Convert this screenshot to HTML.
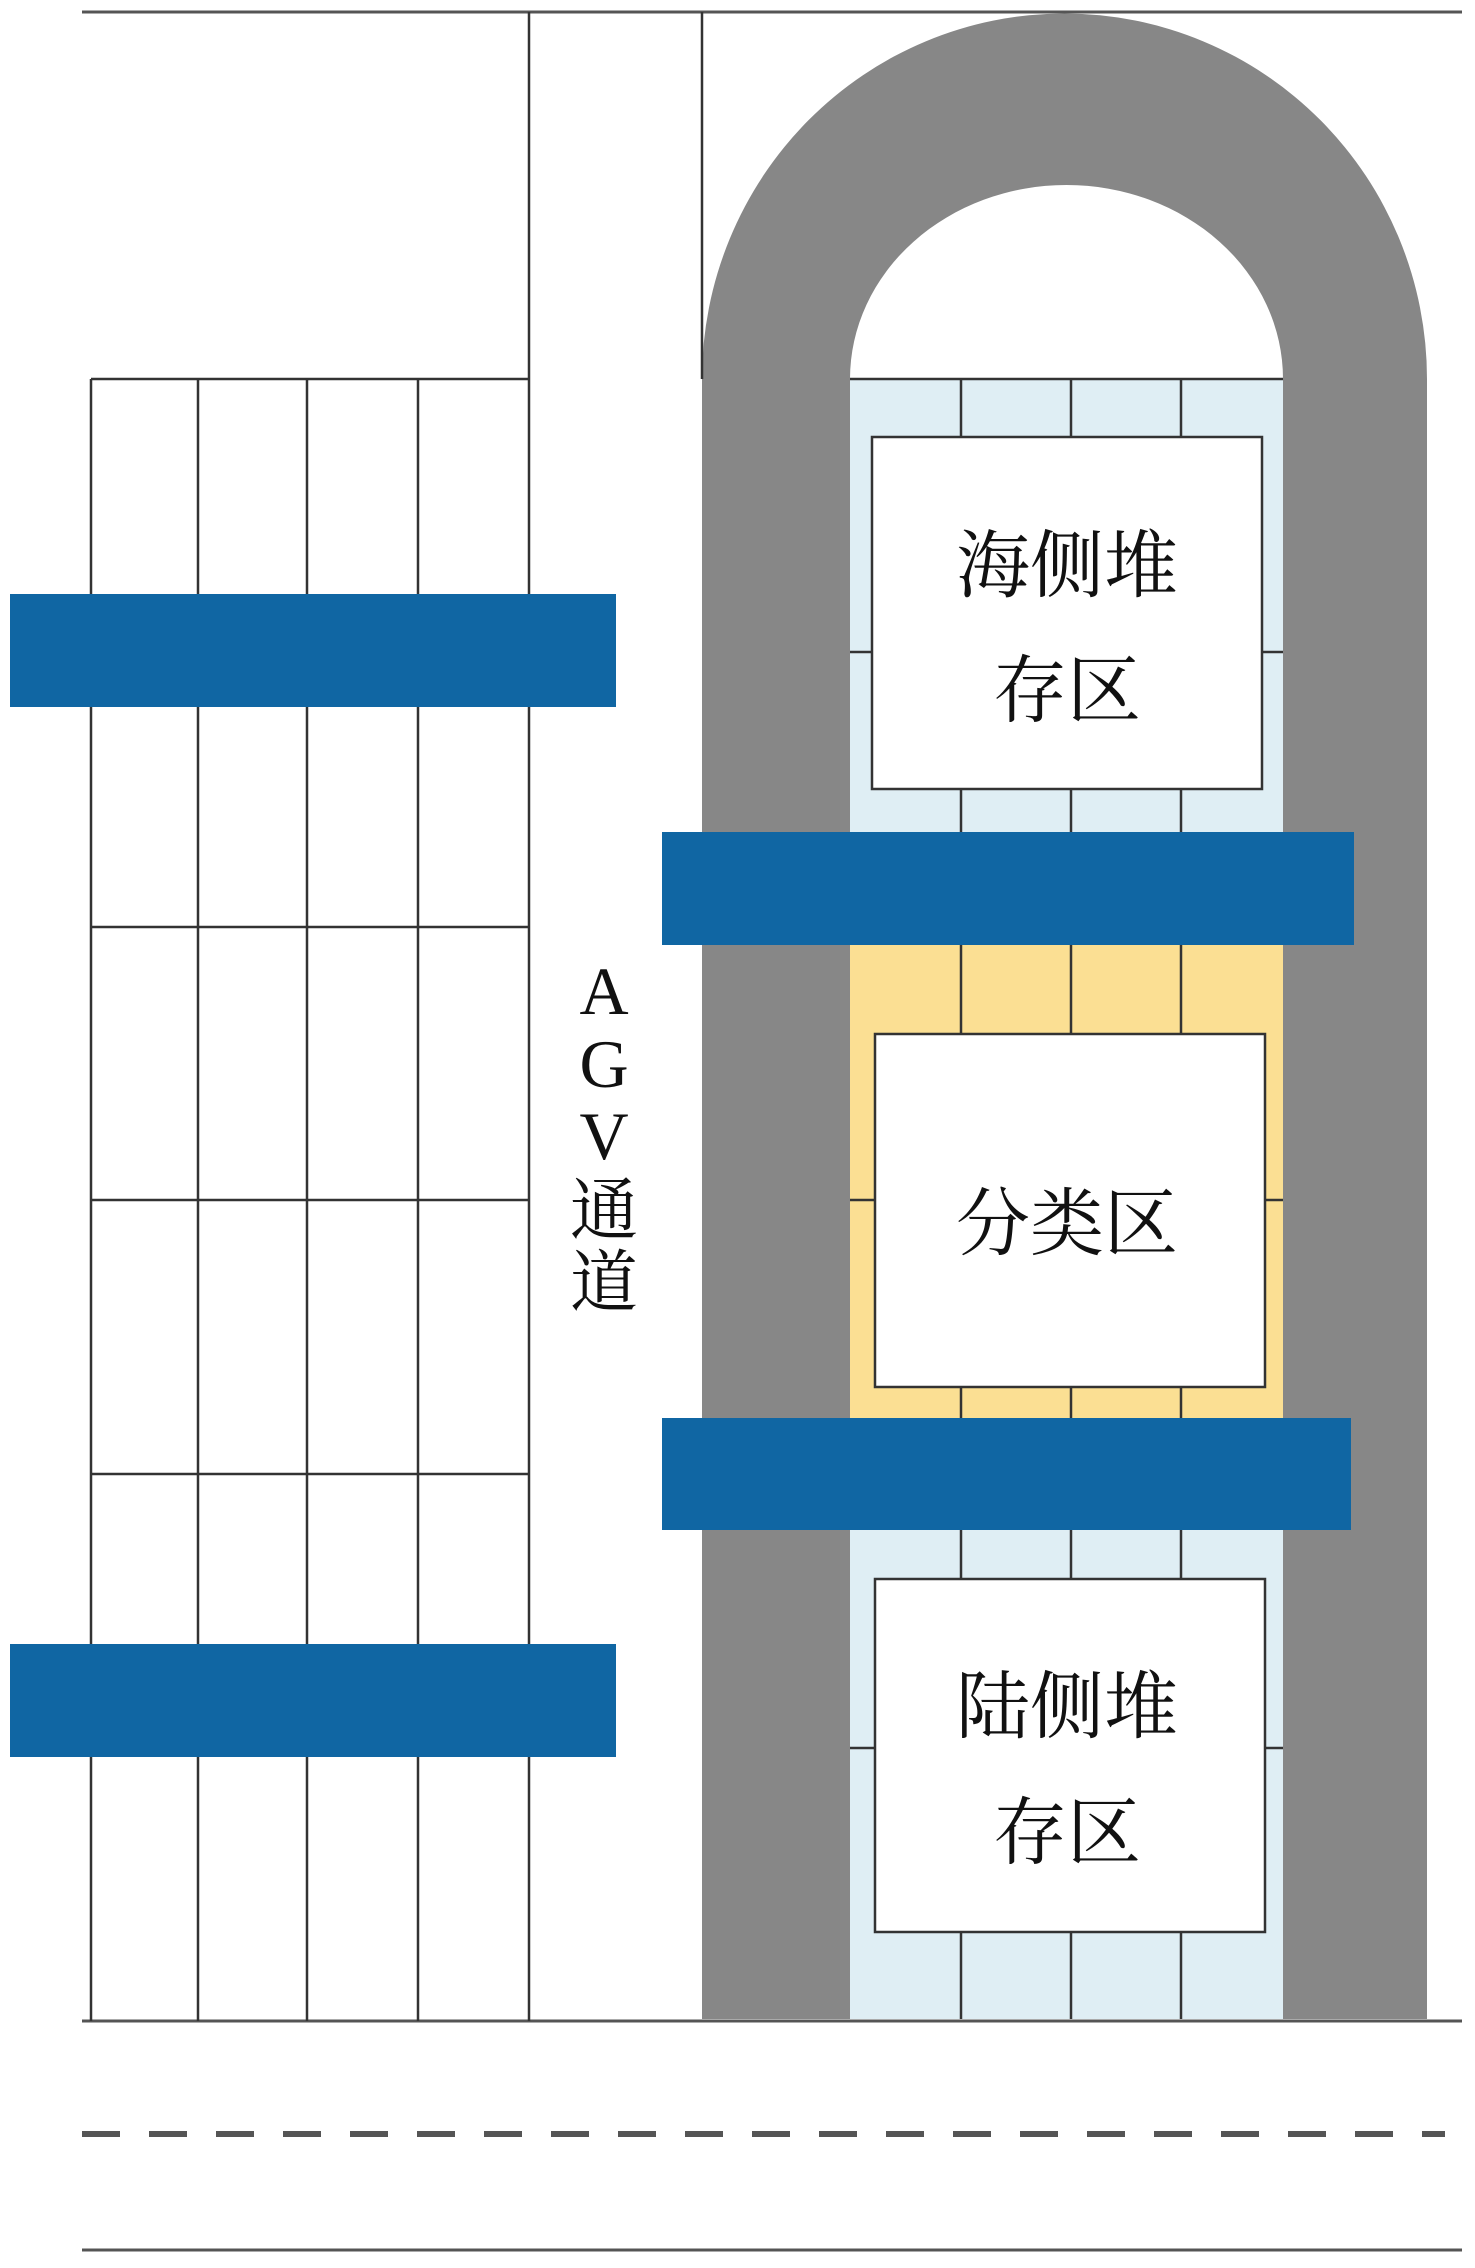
<!DOCTYPE html>
<html><head><meta charset="utf-8"><style>
html,body{margin:0;padding:0;background:#fff;}
svg{display:block;}
text{font-family:"Liberation Serif","Noto Serif CJK SC",serif;fill:#111;}
</style></head><body>
<svg width="1475" height="2268" viewBox="0 0 1475 2268" xmlns="http://www.w3.org/2000/svg">
<!-- gray U track -->
<path d="M702,2019 L702,379 A362,365 0 0 1 1427,379 L1427,2019 L1283,2019 L1283,379 A216.5,194 0 0 0 850,379 L850,2019 Z" fill="#878787"/>
<rect x="850" y="379" width="433" height="453" fill="#dfeef4"/>
<rect x="850" y="945" width="433" height="473" fill="#fbdf93"/>
<rect x="850" y="1530" width="433" height="489" fill="#dfeef4"/>
<g stroke="#333" stroke-width="2.5" fill="none">
<line x1="850" y1="379" x2="1283" y2="379"/>
<line x1="961" y1="379" x2="961" y2="437"/><line x1="1071" y1="379" x2="1071" y2="437"/><line x1="1181" y1="379" x2="1181" y2="437"/>
<line x1="961" y1="789" x2="961" y2="832"/><line x1="1071" y1="789" x2="1071" y2="832"/><line x1="1181" y1="789" x2="1181" y2="832"/>
<line x1="850" y1="652" x2="872" y2="652"/><line x1="1262" y1="652" x2="1283" y2="652"/>
<line x1="961" y1="945" x2="961" y2="1034"/><line x1="1071" y1="945" x2="1071" y2="1034"/><line x1="1181" y1="945" x2="1181" y2="1034"/>
<line x1="961" y1="1387" x2="961" y2="1418"/><line x1="1071" y1="1387" x2="1071" y2="1418"/><line x1="1181" y1="1387" x2="1181" y2="1418"/>
<line x1="850" y1="1200" x2="875" y2="1200"/><line x1="1265" y1="1200" x2="1283" y2="1200"/>
<line x1="961" y1="1530" x2="961" y2="1579"/><line x1="1071" y1="1530" x2="1071" y2="1579"/><line x1="1181" y1="1530" x2="1181" y2="1579"/>
<line x1="961" y1="1932" x2="961" y2="2019"/><line x1="1071" y1="1932" x2="1071" y2="2019"/><line x1="1181" y1="1932" x2="1181" y2="2019"/>
<line x1="850" y1="1748" x2="875" y2="1748"/><line x1="1265" y1="1748" x2="1283" y2="1748"/>
</g>
<g stroke="#333" stroke-width="2.5" fill="#fff">
<rect x="872" y="437" width="390" height="352"/>
<rect x="875" y="1034" width="390" height="353"/>
<rect x="875" y="1579" width="390" height="353"/>
</g>
<g stroke="#555" stroke-width="3" fill="none">
<line x1="82" y1="12" x2="1462" y2="12"/>
<line x1="82" y1="2021" x2="1462" y2="2021"/>
<line x1="82" y1="2250" x2="1462" y2="2250"/>
<line x1="82" y1="2134" x2="1445" y2="2134" stroke-width="6" stroke-dasharray="38,29"/>
</g>
<g stroke="#333" stroke-width="2.5" fill="none">
<line x1="529" y1="12" x2="529" y2="2021"/>
<line x1="702" y1="12" x2="702" y2="379"/>
<line x1="91" y1="379" x2="529" y2="379"/>
<line x1="91" y1="927" x2="529" y2="927"/>
<line x1="91" y1="1200" x2="529" y2="1200"/>
<line x1="91" y1="1474" x2="529" y2="1474"/>
<line x1="91" y1="379" x2="91" y2="2021"/>
<line x1="198" y1="379" x2="198" y2="2021"/>
<line x1="307" y1="379" x2="307" y2="2021"/>
<line x1="418" y1="379" x2="418" y2="2021"/>
</g>
<g fill="#1066a3">
<rect x="10" y="594" width="606" height="113"/>
<rect x="10" y="1644" width="606" height="113"/>
<rect x="662" y="832" width="692" height="113"/>
<rect x="662" y="1418" width="689" height="112"/>
</g>
<g font-size="74" text-anchor="middle">
<text x="1067" y="591">海侧堆</text>
<text x="1067" y="716">存区</text>
<text x="1067" y="1249">分类区</text>
<text x="1067" y="1732">陆侧堆</text>
<text x="1067" y="1858">存区</text>
</g>
<g font-size="68" text-anchor="middle">
<text x="604" y="1014">A</text>
<text x="604" y="1087">G</text>
<text x="604" y="1159">V</text>
<text x="604" y="1234">通</text>
<text x="604" y="1306">道</text>
</g>
</svg>
</body></html>
